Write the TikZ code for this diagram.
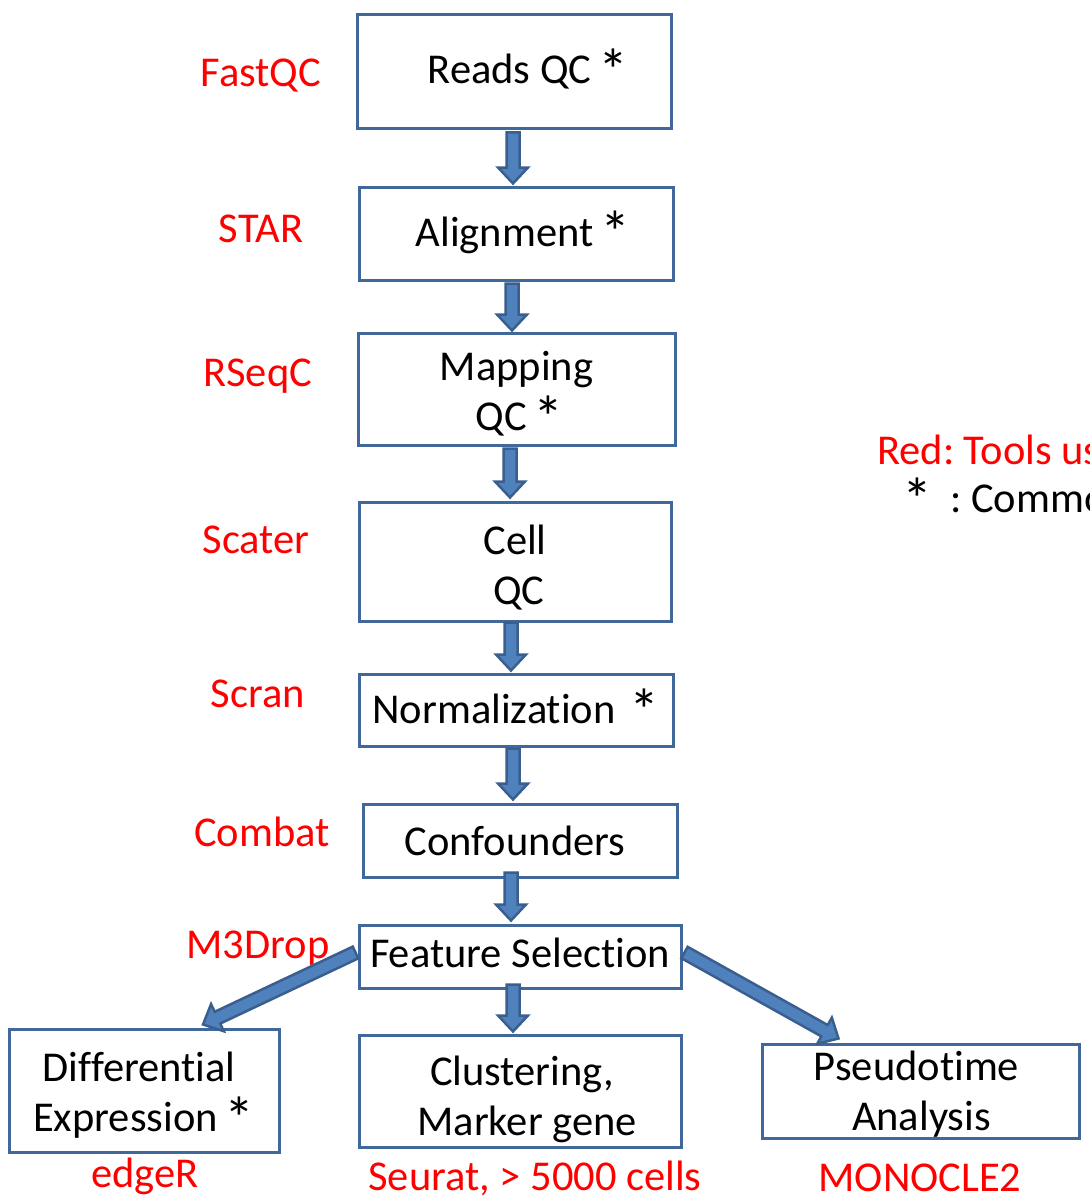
\documentclass[tikz,border=0pt]{standalone}
\usepackage{fontspec}
\setmainfont{Carlito}[Ligatures=NoCommon, RawFeature={-liga}]
\usetikzlibrary{calc}
\frenchspacing
\definecolor{boxblue}{HTML}{41689A}
\definecolor{arrfill}{HTML}{4F81BD}
\definecolor{arrline}{HTML}{3A5F8F}
\newcommand\myast{{\fontsize{60}{50}\selectfont\raisebox{-7.5pt}{*}}}
\newcommand\sast{\hspace{7pt}\myast}
\tikzset{
  stepbox/.style={draw=boxblue, line width=3pt, fill=white, inner sep=0pt},
  boxtext/.style={align=center, inner sep=0pt, font=\fontsize{42.5}{50}\selectfont},
  tool/.style={text=red, font=\fontsize{42.5}{50}\selectfont, inner sep=0pt},
  note/.style={font=\fontsize{42.5}{50}\selectfont, inner sep=0pt, anchor=west},
  barrowstyle/.style={fill=arrfill, draw=arrline, line width=2.5pt, line join=miter}
}
\newcommand\barrow[2]{%
  \coordinate (ba-s) at (#1);
  \coordinate (ba-e) at (#2);
  \coordinate (ba-m) at ($(ba-e)!16pt!(ba-s)$);
  \draw[barrowstyle] ($(ba-s)!6.5pt!90:(ba-e)$) -- ($(ba-m)!6.5pt!-90:(ba-s)$)
     -- ($(ba-m)!15pt!-90:(ba-s)$) -- (ba-e) -- ($(ba-m)!15pt!90:(ba-s)$)
     -- ($(ba-m)!6.5pt!90:(ba-s)$) -- ($(ba-s)!6.5pt!-90:(ba-e)$) -- cycle;}
\begin{document}
\begin{tikzpicture}[x=1pt,y=-1pt]
\useasboundingbox (0,0) rectangle (1089,1204);
\clip (0,0) rectangle (1089,1204);
% boxes
\node[stepbox, minimum width=314pt, minimum height=114pt] (b1) at (514,72) {};
\node[stepbox, minimum width=314pt, minimum height=93pt] (b2) at (516,233.5) {};
\node[stepbox, minimum width=317pt, minimum height=112pt] (b3) at (516.5,389) {};
\node[stepbox, minimum width=312pt, minimum height=119pt] (b4) at (515,561.5) {};
\node[stepbox, minimum width=314pt, minimum height=72pt] (b5) at (516,710) {};
\node[stepbox, minimum width=314pt, minimum height=73pt] (b6) at (520,840.5) {};
\node[stepbox, minimum width=322pt, minimum height=63pt] (b7) at (520,956.5) {};
\node[stepbox, minimum width=270pt, minimum height=123pt] (b8) at (144,1090.5) {};
\node[stepbox, minimum width=322pt, minimum height=112pt] (b9) at (520,1091) {};
\node[stepbox, minimum width=317pt, minimum height=94pt] (b10) at (920.5,1091) {};
% box texts
\node[boxtext] (b1t) at ($(b1)+(14,-2)$) {Reads QC\sast};
\node[boxtext] (b2t) at ($(b2)+(7,-1)$) {Alignment\sast};
\node[boxtext] (b3t) at ($(b3)+(0,6)$) {Mapping\\\hspace*{6pt}QC\sast};
\node[boxtext] (b4t) at ($(b4)+(0,6)$) {Cell\\\hspace*{8pt}QC};
\node[boxtext] (b5t) at ($(b5)+(0,0)$) {Normalization\hspace{14pt}\myast};
\node[boxtext] (b6t) at ($(b6)+(-5,0)$) {Confounders};
\node[boxtext] (b7t) at ($(b7)+(0,-4)$) {Feature Selection};
\node[boxtext] (b8t) at ($(b8)+(-5,5)$) {Dif\kern0ptferential\\\hspace*{10pt}Expression\sast};
\node[boxtext] (b9t) at ($(b9)+(0,8)$) {\hspace*{4pt}Clustering,\\\hspace*{14pt}Marker gene};
\node[boxtext] (b10t) at ($(b10)+(-4,3)$) {Pseudotime\\\hspace*{10pt}Analysis};
% tool labels
\node[tool] (t1) at (261,76) {FastQC};
\node[tool] (t2) at (261,229) {STAR};
\node[tool] (t3) at (258,376) {RSeqC};
\node[tool] (t4) at (256,540) {Scater};
\node[tool] (t5) at (258,694) {Scran};
\node[tool] (t6) at (262,832) {Combat};
\node[tool] (t7) at (258,948) {M3Drop};
\node[tool] (t8) at (145,1176) {edgeR};
\node[tool] (t9) at (535,1178) {Seurat, > 5000 cells};
\node[tool] (t10) at (920,1178) {MONOCLE2};
% legend
\node[note, text=red] (n1) at (877,450) {Red: Tools used};
\node[note] (n2) at (902,499) {\myast\hspace{18pt}: Commonly used};
% connectors
\coordinate (c1s) at ($(b1.south)+(-1,2)$);
\coordinate (c1e) at ($(b2.north)+(-3,-2)$);
\barrow{c1s}{c1e}
\coordinate (c2s) at ($(b2.south)+(-4,2)$);
\coordinate (c2e) at ($(b3.north)+(-4.5,-1)$);
\barrow{c2s}{c2e}
\coordinate (c3s) at ($(b3.south)+(-6.5,2)$);
\coordinate (c3e) at ($(b4.north)+(-5,-3)$);
\barrow{c3s}{c3e}
\coordinate (c4s) at ($(b4.south)+(-4,0)$);
\coordinate (c4e) at ($(b5.north)+(-5,-2)$);
\barrow{c4s}{c4e}
\coordinate (c5s) at ($(b5.south)+(-3,1)$);
\coordinate (c5e) at ($(b6.north)+(-7,-3)$);
\barrow{c5s}{c5e}
\coordinate (c6s) at ($(b6.south)+(-9,-6)$);
\coordinate (c6e) at ($(b7.north)+(-9,-3)$);
\barrow{c6s}{c6e}
\coordinate (c7s) at ($(b7.south)+(-7,-5)$);
\coordinate (c7e) at ($(b9.north)+(-7,-2)$);
\barrow{c7s}{c7e}
\coordinate (c8s) at ($(b7.west)+(-2,-4)$);
\coordinate (c8e) at ($(b8.north)+(59,-3)$);
\barrow{c8s}{c8e}
\coordinate (c9s) at ($(b7.east)+(2,-4)$);
\coordinate (c9e) at ($(b10.north)+(-82,-4)$);
\barrow{c9s}{c9e}
\end{tikzpicture}
\end{document}
